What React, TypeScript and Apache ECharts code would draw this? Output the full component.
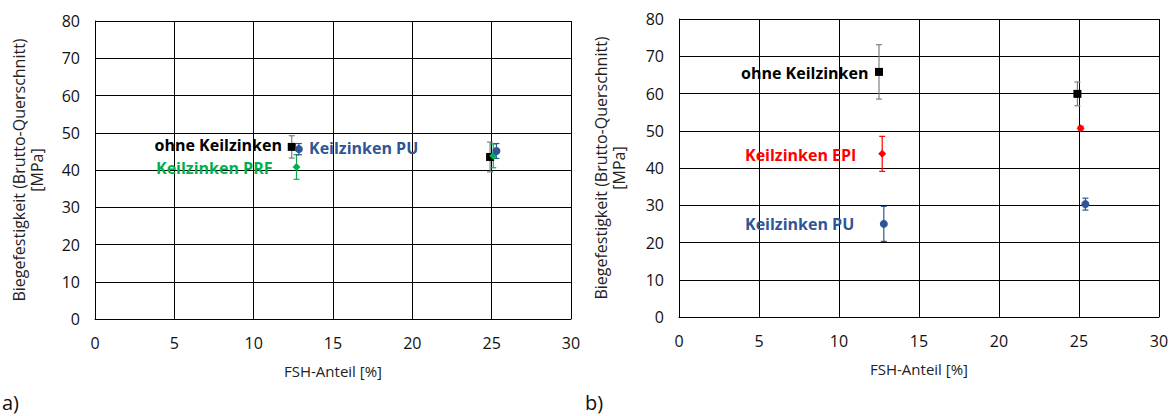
import React, { useEffect, useRef } from "react";
import * as echarts from "echarts";

// Chart a) data
const aOhneX = [12.4, 24.9];
const aOhneY = [46.2, 43.5];
const aOhneErr = [3.0, 4.0];
const aPrfX = [12.7, 25.1];
const aPrfY = [40.8, 43.8];
const aPrfErr = [3.3, 3.2];
const aPuX = [12.85, 25.3];
const aPuY = [45.6, 45.1];
const aPuErr = [1.5, 2.0];

// Chart b) data
const bOhneX = [12.5, 24.9];
const bOhneY = [65.8, 59.9];
const bOhneErr = [7.3, 3.2];
const bEpiX = [12.7, 25.1];
const bEpiY = [43.8, 50.7];
const bEpiErr = [4.7, 0.5];
const bPuX = [12.8, 25.4];
const bPuY = [25.0, 30.3];
const bPuErr = [4.7, 1.6];

const xMin = 0, xMax = 30, xStep = 5;
const yMin = 0, yMax = 80, yStep = 10;

const BLACK = "#000000";
const GRAY = "#7f7f7f";
const GREEN = "#00B050";
const BLUE = "#2F5597";
const RED = "#FF0000";

const FONT = "Open Sans";

function pts(xs: number[], ys: number[]) {
  return xs.map((x, i) => [x, ys[i]]);
}
function errs(xs: number[], ys: number[], es: number[]) {
  return xs.map((x, i) => [x, ys[i] - es[i], ys[i] + es[i]]);
}

function errorSeries(idx: number, data: number[][], color: string) {
  return {
    type: "custom",
    xAxisIndex: idx,
    yAxisIndex: idx,
    z: 3,
    data,
    renderItem: (params: any, api: any) => {
      const x = api.value(0);
      const lo = api.coord([x, api.value(1)]);
      const hi = api.coord([x, api.value(2)]);
      const cap = 3;
      const style = { stroke: color, lineWidth: 1.2 };
      return {
        type: "group",
        children: [
          { type: "line", shape: { x1: lo[0], y1: lo[1], x2: hi[0], y2: hi[1] }, style },
          { type: "line", shape: { x1: lo[0] - cap, y1: lo[1], x2: lo[0] + cap, y2: lo[1] }, style },
          { type: "line", shape: { x1: hi[0] - cap, y1: hi[1], x2: hi[0] + cap, y2: hi[1] }, style },
        ],
      };
    },
  };
}

function scatter(idx: number, data: number[][], color: string, symbol: string, size: number) {
  return {
    type: "scatter",
    xAxisIndex: idx,
    yAxisIndex: idx,
    z: 5,
    symbol,
    symbolSize: size,
    itemStyle: { color, opacity: 1 },
    data,
  };
}

function xAxis(idx: number) {
  return {
    type: "value",
    gridIndex: idx,
    min: xMin,
    max: xMax,
    interval: xStep,
    name: "FSH-Anteil [%]",
    nameLocation: "middle",
    nameGap: 44,
    nameTextStyle: { fontFamily: FONT, fontSize: 15, color: "#222" },
    axisLine: { show: true, onZero: false, lineStyle: { color: BLACK, width: 1 } },
    axisTick: { show: false },
    axisLabel: { fontFamily: FONT, fontSize: 16, color: "#111", margin: 16 },
    splitLine: { show: true, lineStyle: { color: BLACK, width: 1 } },
  };
}

function yAxis(idx: number, gap: number) {
  return {
    type: "value",
    gridIndex: idx,
    min: yMin,
    max: yMax,
    interval: yStep,
    name: "Biegefestigkeit (Brutto-Querschnitt)\n[MPa]",
    nameLocation: "middle",
    nameGap: gap,
    nameRotate: 90,
    nameTextStyle: { fontFamily: FONT, fontSize: 16, color: "#222", lineHeight: 18 },
    axisLine: { show: true, onZero: false, lineStyle: { color: BLACK, width: 1 } },
    axisTick: { show: false },
    axisLabel: { fontFamily: FONT, fontSize: 16, color: "#111", margin: 15 },
    splitLine: { show: true, lineStyle: { color: BLACK, width: 1 } },
  };
}

function label(text: string, x: number, y: number, color: string, align: string) {
  return {
    type: "text",
    x,
    y,
    z: 10,
    style: {
      text,
      fill: color,
      font: `bold 16px "${FONT}"`,
      textAlign: align,
      textVerticalAlign: "middle",
    },
  };
}

export default function App() {
  const ref = useRef<HTMLDivElement>(null);
  useEffect(() => {
    if (!ref.current) return;
    const chart = echarts.init(ref.current, null, { renderer: "svg" });
    chart.setOption({
      animation: false,
      backgroundColor: "#ffffff",
      grid: [
        { left: 95, top: 21, width: 476, height: 298 },
        { left: 679, top: 19, width: 480, height: 298 },
      ],
      xAxis: [xAxis(0), xAxis(1)],
      yAxis: [yAxis(0, 49), yAxis(1, 51)],
      series: [
        errorSeries(0, errs(aOhneX, aOhneY, aOhneErr), GRAY),
        errorSeries(0, errs(aPrfX, aPrfY, aPrfErr), GREEN),
        errorSeries(0, errs(aPuX, aPuY, aPuErr), BLUE),
        scatter(0, pts(aOhneX, aOhneY), BLACK, "rect", 8),
        scatter(0, pts(aPrfX, aPrfY), GREEN, "diamond", 8),
        scatter(0, pts(aPuX, aPuY), BLUE, "circle", 8),
        errorSeries(1, errs(bOhneX, bOhneY, bOhneErr), GRAY),
        errorSeries(1, errs(bEpiX, bEpiY, bEpiErr), RED),
        errorSeries(1, errs(bPuX, bPuY, bPuErr), BLUE),
        scatter(1, pts(bOhneX, bOhneY), BLACK, "rect", 8),
        scatter(1, pts(bEpiX, bEpiY), RED, "diamond", 8),
        scatter(1, pts(bPuX, bPuY), BLUE, "circle", 8),
      ],
      graphic: [
        label("ohne Keilzinken", 282, 145, BLACK, "right"),
        label("Keilzinken PRF", 156, 168, GREEN, "left"),
        label("Keilzinken PU", 309, 148, BLUE, "left"),
        label("ohne Keilzinken", 741, 73, BLACK, "left"),
        label("Keilzinken EPI", 745, 155, RED, "left"),
        label("Keilzinken PU", 745, 224, BLUE, "left"),
        {
          type: "text",
          x: 2,
          y: 402,
          style: { text: "a)", fill: "#111", font: `20px "${FONT}"`, textVerticalAlign: "middle" },
        },
        {
          type: "text",
          x: 585,
          y: 402,
          style: { text: "b)", fill: "#111", font: `20px "${FONT}"`, textVerticalAlign: "middle" },
        },
      ],
    });
    return () => chart.dispose();
  }, []);
  return (
    <div
      ref={ref}
      style={{ position: "fixed", left: 0, top: 0, width: 1172, height: 416, background: "#fff" }}
    />
  );
}
